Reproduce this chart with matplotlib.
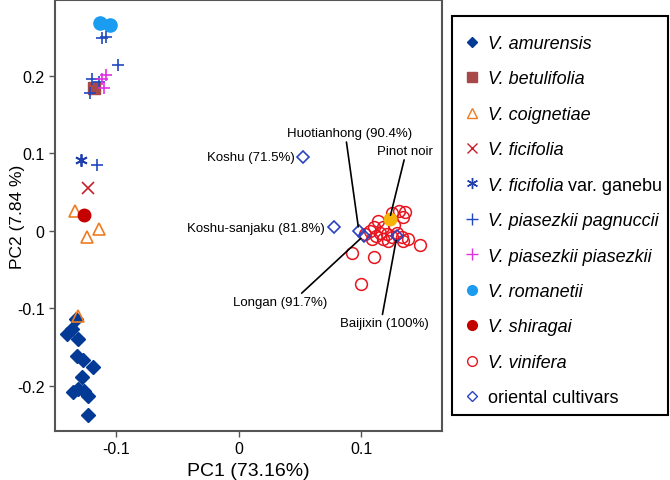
import matplotlib
matplotlib.use("Agg")
import matplotlib.pyplot as plt
from matplotlib.lines import Line2D
from matplotlib.patches import Rectangle

plt.rcParams['font.family'] = ['Liberation Sans', 'DejaVu Sans']

# PCA scores (PC1, PC2)
amurensis_x = [-0.133, -0.140, -0.136, -0.131, -0.132, -0.127, -0.119, -0.128,
               -0.131, -0.126, -0.123, -0.123, -0.135]
amurensis_y = [-0.114, -0.133, -0.127, -0.140, -0.161, -0.167, -0.176, -0.189,
               -0.204, -0.206, -0.213, -0.238, -0.208]
betulifolia_x = [-0.118]
betulifolia_y = [0.185]
coignetiae_x = [-0.134, -0.124, -0.114, -0.131]
coignetiae_y = [0.026, -0.008, 0.003, -0.110]
ficifolia_x = [-0.123]
ficifolia_y = [0.055]
ganebu_x = [-0.129]
ganebu_y = [0.092]
pagnuccii_x = [-0.116, -0.112, -0.108, -0.0985, -0.120, -0.121, -0.114]
pagnuccii_y = [0.085, 0.249, 0.250, 0.214, 0.196, 0.178, 0.192]
piasezkii_x = [-0.108, -0.110, -0.112]
piasezkii_y = [0.201, 0.185, 0.196]
romanetii_x = [-0.113, -0.105]
romanetii_y = [0.268, 0.266]
shiragai_x = [-0.126]
shiragai_y = [0.021]
vinifera_x = [0.131, 0.136, 0.134, 0.125, 0.114, 0.110, 0.118, 0.115, 0.121, 0.107,
              0.103, 0.118, 0.125, 0.133, 0.138, 0.148, 0.134, 0.122, 0.092, 0.110,
              0.112, 0.129, 0.100, 0.127, 0.109]
vinifera_y = [0.026, 0.024, 0.018, 0.023, 0.013, 0.005, 0.005, -0.002, -0.004, 0.000,
              -0.004, -0.010, -0.008, -0.008, -0.010, -0.018, -0.013, -0.013, -0.029, -0.033,
              -0.006, -0.002, -0.068, 0.008, -0.010]
pinot_x = [0.123]
pinot_y = [0.015]
oriental_names = ['Koshu (71.5%)', 'Koshu-sanjaku (81.8%)', 'Huotianhong (90.4%)',
                  'Longan (91.7%)', 'Baijixin (100%)']
oriental_x = [0.0525, 0.0776, 0.098, 0.102, 0.129]
oriental_y = [0.096, 0.005, 0.0, -0.006, -0.007]

fig = plt.figure(figsize=(6.7, 4.81), dpi=100)
ax = fig.add_axes([0.082, 0.102, 0.578, 0.896])

ax.plot(amurensis_x, amurensis_y, 'D', ms=7, color='#033a96', mec='#033a96', ls='none')
ax.plot(vinifera_x, vinifera_y, 'o', ms=8.5, mfc='none', mec='#e8141e', mew=1.1, ls='none')
ax.plot(pinot_x, pinot_y, 'o', ms=9, color='#f6b40a', ls='none')
ax.plot(oriental_x, oriental_y, 'D', ms=6, mfc='none', mec='#2a44c0', mew=1.2, ls='none')
ax.plot(coignetiae_x, coignetiae_y, '^', ms=8, mfc='none', mec='#f07a1e', mew=1.2, ls='none')
ax.plot(shiragai_x, shiragai_y, 'o', ms=9, color='#c40000', ls='none')
ax.plot(ficifolia_x, ficifolia_y, 'x', ms=8, color='#c8202a', mew=1.2, ls='none')
ax.plot(ganebu_x, ganebu_y, marker=(6, 2, 0), ms=9, color='#1f3fae', mew=1.3, ls='none')
ax.plot(romanetii_x, romanetii_y, 'o', ms=9.5, color='#1a9cf0', ls='none')
ax.plot(betulifolia_x, betulifolia_y, 's', ms=8, color='#a84848', ls='none')
ax.plot(pagnuccii_x, pagnuccii_y, '+', ms=9, color='#2048c0', mew=1.2, ls='none')
ax.plot(piasezkii_x, piasezkii_y, '+', ms=9, color='#e030e0', mew=1.2, ls='none')

# labels for the oriental cultivars
lab_kw = dict(fontsize=9.5, color='black')
ax.annotate(oriental_names[0], xy=(oriental_x[0], oriental_y[0]), xytext=(0.0457, 0.096),
            ha='right', va='center', **lab_kw)
ax.annotate(oriental_names[1], xy=(oriental_x[1], oriental_y[1]), xytext=(0.070, 0.004),
            ha='right', va='center', **lab_kw)
line = dict(arrowstyle='-', color='black', lw=1.2, shrinkA=0, shrinkB=3)
ax.annotate(oriental_names[2], xy=(oriental_x[2], oriental_y[2]), xytext=(0.0906, 0.126),
            ha='center', va='center', arrowprops=dict(line, relpos=(0.47, 0)), **lab_kw)
ax.annotate('Pinot noir', xy=(pinot_x[0], pinot_y[0]), xytext=(0.1355, 0.103),
            ha='center', va='center', arrowprops=dict(line, relpos=(0.5, 0)), **lab_kw)
ax.annotate(oriental_names[3], xy=(oriental_x[3], oriental_y[3]), xytext=(0.0335, -0.0916),
            ha='center', va='center', arrowprops=dict(line, relpos=(0.7, 1)), **lab_kw)
ax.annotate(oriental_names[4], xy=(oriental_x[4], oriental_y[4]), xytext=(0.119, -0.119),
            ha='center', va='center', arrowprops=dict(line, relpos=(0.47, 1)), **lab_kw)

ax.set_xlim(-0.150, 0.166)
ax.set_ylim(-0.258, 0.298)
ax.set_xticks([-0.1, 0, 0.1])
ax.set_xticklabels(['-0.1', '0', '0.1'])
ax.set_yticks([-0.2, -0.1, 0, 0.1, 0.2])
ax.set_yticklabels(['-0.2', '-0.1', '0', '0.1', '0.2'])
ax.tick_params(labelsize=11.5, length=4, width=1, color='#555555', direction='out')
for s in ax.spines.values():
    s.set_color('#555555')
    s.set_linewidth(1.5)
ax.set_xlabel('PC1 (73.16%)', fontsize=14, labelpad=4)
ax.set_ylabel('PC2 (7.84 %)', fontsize=12.5)
ax.yaxis.set_label_coords(-0.078, 0.5)

handles = [
    Line2D([], [], ls='none', marker='D', ms=5, color='#033a96'),
    Line2D([], [], ls='none', marker='s', ms=7, color='#a84848'),
    Line2D([], [], ls='none', marker='^', ms=7, mfc='none', mec='#f07a1e', mew=1),
    Line2D([], [], ls='none', marker='x', ms=7, color='#c8202a', mew=1),
    Line2D([], [], ls='none', marker=(6, 2, 0), ms=8, color='#1f3fae', mew=1),
    Line2D([], [], ls='none', marker='+', ms=8, color='#2048c0', mew=1),
    Line2D([], [], ls='none', marker='+', ms=8, color='#e030e0', mew=1),
    Line2D([], [], ls='none', marker='o', ms=7, color='#1a9cf0'),
    Line2D([], [], ls='none', marker='o', ms=7, color='#c40000'),
    Line2D([], [], ls='none', marker='o', ms=7, mfc='none', mec='#e8141e', mew=1),
    Line2D([], [], ls='none', marker='D', ms=5, mfc='none', mec='#2a44c0', mew=1),
]
labels = ['V. amurensis', 'V. betulifolia', 'V. coignetiae', 'V. ficifolia',
          'V. ficifolia', 'V. piasezkii pagnuccii', 'V. piasezkii piasezkii',
          'V. romanetii', 'V. shiragai', 'V. vinifera', 'oriental cultivars']
leg = fig.legend(handles, labels, loc='upper left', bbox_to_anchor=(0.694, 0.925),
                 borderaxespad=0, borderpad=0, fontsize=13, frameon=False,
                 labelspacing=1.02, handlelength=0.8, handletextpad=0.45)
for i, t in enumerate(leg.get_texts()):
    if i != 10:
        t.set_fontstyle('italic')

# legend frame
fig.patches.append(Rectangle((452 / 670, 1 - 416 / 481), 216 / 670, 399 / 481,
                             transform=fig.transFigure, fill=False,
                             edgecolor='black', linewidth=1.5))

# roman "var. ganebu" after the italic species name
fig.canvas.draw()
bb = leg.get_texts()[4].get_window_extent()
fig.text((bb.x1 + 5) / 670, bb.y0 / 481, 'var. ganebu', fontsize=13,
         ha='left', va='bottom')

fig.savefig('out.png', dpi=100)
